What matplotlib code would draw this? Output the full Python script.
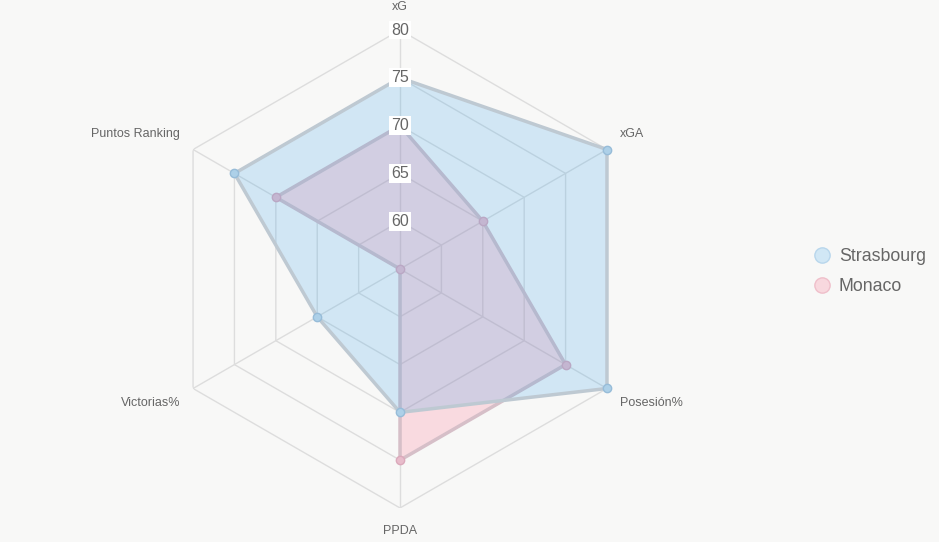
import numpy as np
import matplotlib.pyplot as plt
from matplotlib.lines import Line2D

plt.rcParams['font.family'] = ['Liberation Sans', 'DejaVu Sans']

# --- data ---
axes_labels = ["xG", "xGA", "Posesión%", "PPDA", "Victorias%", "Puntos Ranking"]
strasbourg = [75, 80, 80, 70, 65, 75]
monaco = [70, 65, 75, 75, 55, 70]
ticks = [60, 65, 70, 75, 80]
r_min, r_max = 55, 80

BG = "#f8f8f7"
GRID = "#dddddd"
TXT = "#666666"

n = len(axes_labels)
theta = np.arange(n) * 2 * np.pi / n
theta_closed = np.append(theta, theta[0])

fig = plt.figure(figsize=(9.39, 5.42), dpi=100, facecolor=BG)
ax = fig.add_axes([0.1715, 0.0627, 0.509, 0.882], projection="polar", facecolor="none")
ax.set_theta_offset(np.pi / 2)
ax.set_theta_direction(-1)
ax.set_ylim(r_min, r_max)
ax.grid(False)
ax.spines["polar"].set_visible(False)
ax.set_xticks([])
ax.set_yticks([])

# hexagonal grid rings and spokes
for t in ticks:
    ax.plot(theta_closed, [t] * (n + 1), color=GRID, lw=1, zorder=1)
for th in theta:
    ax.plot([th, th], [r_min, r_max], color=GRID, lw=1, zorder=1)

# Monaco first, Strasbourg on top
ax.fill(theta_closed, monaco + monaco[:1], color="#ff6384", alpha=0.2, lw=0, zorder=2)
ax.plot(theta_closed, monaco + monaco[:1], color="#d6bfc8", lw=2.5, zorder=3, clip_on=False)
ax.plot(theta, monaco, "o", ms=6, mfc="#e8bccb", mec="#dba9bb", mew=1, zorder=4, clip_on=False)

ax.fill(theta_closed, strasbourg + strasbourg[:1], color="#36a2eb", alpha=0.2, lw=0, zorder=5)
ax.plot(theta_closed, strasbourg + strasbourg[:1], color="#bec9d2", lw=2.5, zorder=6, clip_on=False)
ax.plot(theta, strasbourg, "o", ms=6, mfc="#add0e8", mec="#97bcd8", mew=1, zorder=7, clip_on=False)

# radial tick labels with white boxes
for t in ticks:
    ax.text(0, t, str(t), ha="center", va="center", fontsize=11.5, color=TXT, zorder=8,
            bbox=dict(boxstyle="square,pad=0.12", fc="white", ec="none"))

# point labels
offsets = [(0, 23, "center"), (13, 16, "left"), (13, -15, "left"),
           (0, -23, "center"), (-13, -15, "right"), (-13, 16, "right")]
for th, lab, (dx, dy, ha) in zip(theta, axes_labels, offsets):
    ax.annotate(lab, (th, r_max), xytext=(dx, dy), textcoords="offset pixels",
                ha=ha, va="center", fontsize=9, color=TXT, annotation_clip=False)

# legend
handles = [
    Line2D([], [], ls="none", marker="o", ms=11, mfc="#d1e7f5", mec="#b8d6ec", mew=1),
    Line2D([], [], ls="none", marker="o", ms=11, mfc="#f8d8de", mec="#efbfca", mew=1),
]
fig.legend(handles, ["Strasbourg", "Monaco"], loc="center left",
           bbox_to_anchor=(0.849, 0.499), frameon=False, fontsize=12.8,
           labelcolor=TXT, handletextpad=0.45, labelspacing=0.75, handlelength=1.0)

fig.savefig("out.png", dpi=100, facecolor=BG)
